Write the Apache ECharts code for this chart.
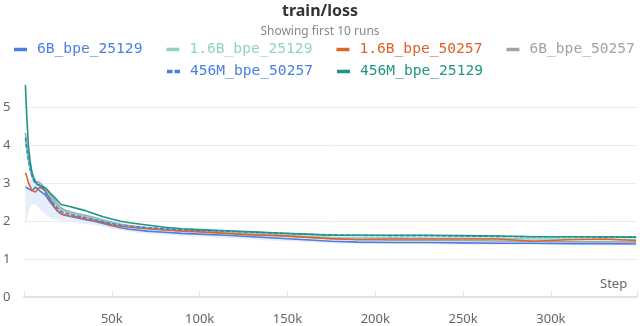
<!DOCTYPE html>
<html>
<head>
<meta charset="utf-8">
<script src="https://cdn.jsdelivr.net/npm/echarts@6/dist/echarts.min.js"></script>
<style>html,body{margin:0;padding:0;background:#fff;}#chart{width:640px;height:326px;}</style>
</head>
<body>
<div id="chart"></div>
<script>
const steps = [800, 1500, 2500, 3500, 4500, 5500, 6500, 7500, 8500, 9500, 10500, 12000, 13500, 15000, 17000, 19000, 21000, 23000, 26000, 30000, 35000, 40000, 45000, 50000, 55000, 60000, 70000, 80000, 90000, 100000, 115000, 130000, 145000, 160000, 175000, 190000, 210000, 230000, 250000, 270000, 290000, 310000, 330000, 348500];

const loss_6B_bpe_25129 = [2.9, 2.88, 2.86, 2.83, 2.8, 2.84, 2.9, 2.86, 2.82, 2.78, 2.75, 2.7, 2.6, 2.5, 2.38, 2.27, 2.2, 2.17, 2.13, 2.09, 2.04, 2.0, 1.94, 1.88, 1.83, 1.79, 1.74, 1.71, 1.68, 1.66, 1.63, 1.59, 1.55, 1.51, 1.47, 1.45, 1.44, 1.44, 1.43, 1.42, 1.42, 1.41, 1.41, 1.40];
const loss_1_6B_bpe_25129 = [4.1, 3.9, 3.6, 3.35, 3.18, 3.07, 3.0, 2.98, 2.97, 2.95, 2.9, 2.82, 2.73, 2.64, 2.52, 2.4, 2.3, 2.26, 2.21, 2.17, 2.12, 2.07, 2.01, 1.95, 1.9, 1.86, 1.81, 1.78, 1.75, 1.73, 1.7, 1.67, 1.64, 1.6, 1.57, 1.56, 1.56, 1.55, 1.55, 1.54, 1.53, 1.53, 1.52, 1.52];
const loss_1_6B_bpe_50257 = [3.28, 3.2, 3.02, 2.92, 2.82, 2.78, 2.77, 2.82, 2.88, 2.93, 2.88, 2.8, 2.68, 2.58, 2.42, 2.28, 2.2, 2.16, 2.14, 2.11, 2.06, 2.02, 1.97, 1.9, 1.87, 1.84, 1.8, 1.77, 1.74, 1.72, 1.68, 1.64, 1.62, 1.58, 1.54, 1.52, 1.53, 1.53, 1.53, 1.53, 1.47, 1.51, 1.53, 1.49];
const loss_6B_bpe_50257 = [4.33, 4.05, 3.72, 3.45, 3.25, 3.12, 3.05, 3.02, 3.03, 3.0, 2.95, 2.87, 2.78, 2.7, 2.58, 2.45, 2.35, 2.3, 2.25, 2.2, 2.15, 2.1, 2.03, 1.97, 1.92, 1.88, 1.83, 1.79, 1.76, 1.74, 1.7, 1.66, 1.62, 1.58, 1.54, 1.51, 1.5, 1.5, 1.49, 1.48, 1.47, 1.46, 1.46, 1.45];
const loss_456M_bpe_50257 = [4.2, 3.95, 3.62, 3.38, 3.2, 3.08, 3.0, 2.96, 2.95, 2.92, 2.87, 2.78, 2.68, 2.58, 2.46, 2.35, 2.26, 2.22, 2.18, 2.14, 2.09, 2.04, 1.99, 1.94, 1.9, 1.87, 1.83, 1.8, 1.78, 1.76, 1.74, 1.71, 1.68, 1.66, 1.64, 1.63, 1.62, 1.62, 1.61, 1.6, 1.59, 1.59, 1.58, 1.58];
const loss_456M_bpe_25129 = [5.6, 4.85, 4.0, 3.58, 3.3, 3.15, 3.05, 2.98, 2.96, 2.93, 2.92, 2.88, 2.82, 2.74, 2.65, 2.55, 2.44, 2.42, 2.39, 2.34, 2.28, 2.2, 2.12, 2.06, 2.0, 1.96, 1.9, 1.84, 1.8, 1.78, 1.75, 1.72, 1.69, 1.66, 1.63, 1.63, 1.63, 1.63, 1.62, 1.61, 1.59, 1.59, 1.59, 1.58];

// light blue min/max band
const bandLow = [1.85, 2.05, 2.25, 2.38, 2.44, 2.46, 2.45, 2.4, 2.35, 2.3, 2.25, 2.2, 2.15, 2.08, 2.05, 2.03, 2.02, 2.0, 1.98, 1.96, 1.93, 1.9, 1.86, 1.8, 1.76, 1.72, 1.67, 1.63, 1.61, 1.59, 1.56, 1.52, 1.48, 1.45, 1.42, 1.4, 1.39, 1.39, 1.38, 1.38, 1.37, 1.37, 1.36, 1.36];
const bandHigh = [2.95, 3.0, 3.05, 3.1, 3.12, 3.12, 3.1, 3.08, 3.08, 3.05, 3.0, 2.92, 2.83, 2.75, 2.62, 2.5, 2.4, 2.35, 2.3, 2.25, 2.19, 2.13, 2.07, 2.01, 1.96, 1.92, 1.87, 1.83, 1.8, 1.78, 1.76, 1.73, 1.7, 1.68, 1.66, 1.65, 1.64, 1.64, 1.63, 1.62, 1.61, 1.61, 1.6, 1.6];

const yTicks = [0, 1, 2, 3, 4, 5];
const xTickStep = 50000;

const runs = [
  {name: '6B_bpe_25129', data: loss_6B_bpe_25129, color: '#4a7fe0', dash: false},
  {name: '1.6B_bpe_25129', data: loss_1_6B_bpe_25129, color: '#8fd3c3', dash: false},
  {name: '1.6B_bpe_50257', data: loss_1_6B_bpe_50257, color: '#e0622c', dash: false},
  {name: '6B_bpe_50257', data: loss_6B_bpe_50257, color: '#a3a3a3', dash: false},
  {name: '456M_bpe_50257', data: loss_456M_bpe_50257, color: '#4a7fe0', dash: true},
  {name: '456M_bpe_25129', data: loss_456M_bpe_25129, color: '#1f9583', dash: false}
];

const pair = (arr) => steps.map((s, i) => [s, arr[i]]);
const drawOrder = [3, 1, 0, 2, 4, 5];

const bandData = steps.map((s, i) => [s, bandLow[i], bandHigh[i]]);
const series = [{
  name: 'band', type: 'custom', silent: true, z: 1,
  data: bandData,
  encode: {x: 0, y: [1, 2]},
  renderItem: function (params, api) {
    if (params.dataIndex !== 0) return null;
    const top = bandData.map(d => api.coord([d[0], d[2]]));
    const bot = bandData.slice().reverse().map(d => api.coord([d[0], d[1]]));
    return {
      type: 'polygon',
      shape: {points: top.concat(bot)},
      style: {fill: '#e6eefb', stroke: null}
    };
  }
}];
drawOrder.forEach(i => {
  const r = runs[i];
  series.push({
    name: r.name, type: 'line', data: pair(r.data), showSymbol: false, color: r.color,
    lineStyle: {width: 1.6, color: r.color, type: r.dash ? [4, 2] : 'solid'}, z: 3
  });
});

const mono = "'DejaVu Sans Mono', monospace";
const legendItem = (r) => ({
  name: r.name,
  icon: r.dash ? 'path://M0,0H5.5V3H0Z M7.5,0H13V3H7.5Z' : 'rect',
  textStyle: {color: r.color}
});
const legendBase = {
  itemWidth: 13, itemHeight: 3.5, itemGap: 24, padding: 0, symbolKeepAspect: false,
  textStyle: {fontFamily: mono, fontSize: 14.6, padding: [0, 0, 0, 5]},
  selectedMode: false
};

const chart = echarts.init(document.getElementById('chart'), null, {renderer: 'canvas'});
chart.setOption({
  animation: false,
  backgroundColor: '#fff',
  title: {
    text: 'train/loss', subtext: 'Showing first 10 runs', left: 'center', top: 0, padding: [3, 0, 0, 0], itemGap: 7,
    textStyle: {fontFamily: 'Noto Sans', fontSize: 16, fontWeight: 'bold', color: '#333'},
    subtextStyle: {fontFamily: 'Noto Sans', fontSize: 12, color: '#888'}
  },
  legend: [
    Object.assign({}, legendBase, {left: 14, top: 42, data: runs.slice(0, 4).map(legendItem)}),
    Object.assign({}, legendBase, {left: 167, top: 64, data: runs.slice(4).map(legendItem)})
  ],
  grid: {left: 22, right: 3, top: 83, bottom: 28, containLabel: false},
  xAxis: {
    type: 'value', min: 0, max: 349000, interval: xTickStep,
    name: 'Step', nameLocation: 'end', nameGap: -37,
    nameTextStyle: {fontFamily: 'Noto Sans', fontSize: 13, color: '#666', verticalAlign: 'bottom', padding: [0, 0, 6, 0]},
    axisLine: {show: true, lineStyle: {color: '#e2e2e2', width: 2}},
    axisTick: {show: true, inside: true, length: 6, lineStyle: {color: '#e2e2e2', width: 1}},
    axisLabel: {
      fontFamily: 'Noto Sans', fontSize: 13, color: '#666', margin: 16,
      formatter: v => (v > 0 && v % xTickStep === 0) ? (v / 1000) + 'k' : ''
    },
    splitLine: {show: false}
  },
  yAxis: {
    type: 'value', min: 0, max: 5.65, interval: 1,
    axisLine: {show: false}, axisTick: {show: false},
    axisLabel: {
      fontFamily: 'Noto Sans', fontSize: 13, color: '#666', align: 'left', margin: 21,
      formatter: v => yTicks.includes(v) ? String(v) : ''
    },
    splitLine: {show: true, showMaxLine: false, lineStyle: {color: ['#ececec', '#ececec', '#ececec', '#ececec', '#ececec', '#ececec', 'rgba(0,0,0,0)'], width: 1}}
  },
  series: series
});
</script>
</body>
</html>
